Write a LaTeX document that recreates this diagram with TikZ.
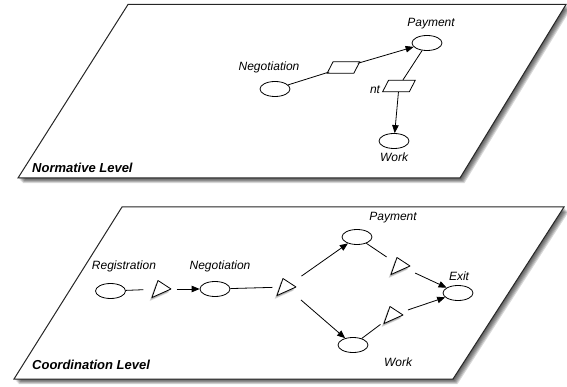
\documentclass[tikz,border=0pt]{standalone}
\usepackage{fontspec}
\setmainfont{Liberation Sans}
\usetikzlibrary{shapes.geometric,arrows.meta}
\newcommand\slanttri[1]{%
  \foreach \s in {1,...,4}{%
    \fill[black,opacity=0.12] (#1.center) ++(-3-0.6*\s,-8.5+0.9*\s) -- ++(-6,17) -- ++(19,-8.5) -- cycle;}%
  \draw[tribox] (#1.center) ++(-3,-8.5) -- ++(-6,17) -- ++(19,-8.5) -- cycle;}
\begin{document}
\begin{tikzpicture}[x=1pt,y=-1pt,
  place/.style={ellipse,draw,fill=white,minimum width=30pt,minimum height=15pt,inner sep=0pt,line width=0.8pt},
  lbl/.style={font=\fontsize{12}{14}\selectfont\itshape,inner sep=0pt},
  lvl/.style={font=\fontsize{13}{15}\selectfont\bfseries\itshape,inner sep=0pt,anchor=west},
  trans/.style={rectangle,minimum width=28pt,minimum height=11.6pt,inner sep=0pt},
  transbox/.style={draw,fill=white,line width=0.8pt},
  tri/.style={rectangle,minimum width=19pt,minimum height=17pt,inner sep=0pt},
  tribox/.style={draw,fill=white,line width=0.8pt,line join=round},
  conn/.style={line width=0.8pt},
  arr/.style={conn,-{Triangle[length=8pt,width=6.5pt]}},
  plane/.style={fill=white,draw=black!85,line width=1pt}
]
\useasboundingbox (0,0) rectangle (567,387);

% ---- planes with soft shadows
\foreach \i in {1,...,6}{
  \fill[black,opacity=0.15,shift={(\i*0.75,\i*0.85)}] (128,4.5) -- (566,4.5) -- (460,178) -- (18,178) -- cycle;
  \fill[black,opacity=0.15,shift={(\i*0.75,\i*0.85)}] (122,207) -- (564,207) -- (453,379) -- (14,379) -- cycle;
}
\draw[plane] (128,4.5) -- (566,4.5) -- (460,178) -- (18,178) -- cycle;
\draw[plane] (122,207) -- (564,207) -- (453,379) -- (14,379) -- cycle;

% ---- Normative level
\node[place] (neg1) at (275,89) {};
\node[place] (pay1) at (427,43) {};
\node[place] (work1) at (394,141) {};
\node[trans] (p1) at (343.5,67.5) {};
\node[trans] (p2) at (399,86) {};
\draw[transbox] (p1.center) ++(-10.4,-5.8) -- ++(26.7,0) -- ++(-6,11.6) -- ++(-26.7,0) -- cycle;
\draw[transbox] (p2.center) ++(-10.4,-5.8) -- ++(26.7,0) -- ++(-6,11.6) -- ++(-26.7,0) -- cycle;
\node[lbl] (lneg1) at (269,67) {Negotiation};
\node[lbl] (lpay1) at (431,24) {Payment};
\node[lbl] (lwork1) at (394,157) {Work};
\node[lbl] (lnt) at (375,90) {nt};
\node[lvl] (lnorm) at (32,168) {Normative Level};

\draw[conn] (neg1) -- (p1);
\draw[arr] (p1) -- (pay1);
\draw[conn] (pay1) -- (p2);
\draw[arr] (p2) -- (work1);

% ---- Coordination level
\node[place] (reg) at (110.5,291) {};
\node[tri] (t1) at (161,289) {};
\node[place] (neg2) at (215,289) {};
\node[tri] (t2) at (286,287) {};
\node[place] (pay2) at (357,237) {};
\node[tri] (t3) at (400,266) {};
\node[place] (exit) at (458,293) {};
\node[tri] (t4) at (393,315) {};
\node[place] (work2) at (353,345) {};
\slanttri{t1}
\slanttri{t2}
\slanttri{t3}
\slanttri{t4}
\node[lbl] (lreg) at (124,266) {Registration};
\node[lbl] (lneg2) at (220,266) {Negotiation};
\node[lbl] (lpay2) at (393,218) {Payment};
\node[lbl] (lexit) at (459,276) {Exit};
\node[lbl] (lwork2) at (398,362) {Work};
\node[lvl] (lcoord) at (32,365) {Coordination Level};

\draw[conn,shorten >=8pt] (reg) -- (t1);
\draw[arr,shorten <=6pt] (t1) -- (neg2);
\draw[conn,shorten >=4pt] (neg2) -- (t2);
\draw[arr,shorten <=7pt] (t2) -- (pay2);
\draw[arr,shorten <=7pt] (t2) -- (work2);
\draw[conn,shorten >=4.5pt] (pay2) -- (t3);
\draw[arr,shorten <=6pt] (t3) -- (exit);
\draw[conn,shorten >=3.5pt] (work2) -- (t4);
\draw[arr,shorten <=5.5pt] (t4) -- (exit);
\end{tikzpicture}
\end{document}
